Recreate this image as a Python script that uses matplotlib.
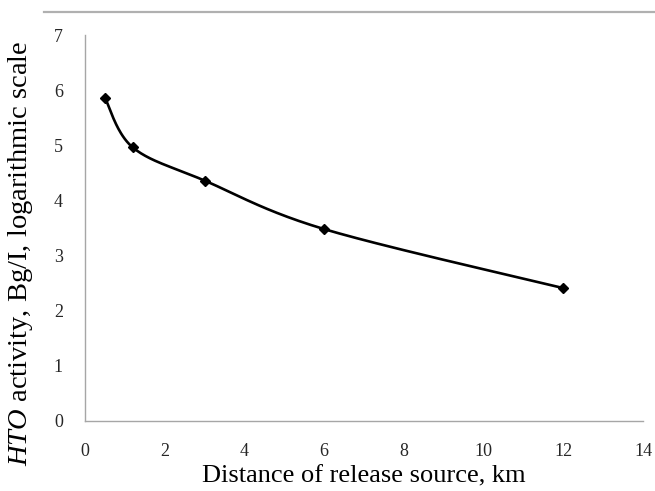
import numpy as np
import matplotlib
matplotlib.use('Agg')
import matplotlib.pyplot as plt
from matplotlib.lines import Line2D

# distance from release source (km) and HTO activity (log scale)
distance = [0.5, 1.2, 3.0, 6.0, 12.0]
activity = [5.86, 4.96, 4.36, 3.48, 2.41]

x_ticks = [0, 2, 4, 6, 8, 10, 12, 14]
y_ticks = [0, 1, 2, 3, 4, 5, 6, 7]

plt.rcParams['font.family'] = 'Liberation Serif'
plt.rcParams['mathtext.fontset'] = 'custom'
plt.rcParams['mathtext.rm'] = 'Liberation Serif'
plt.rcParams['mathtext.it'] = 'Liberation Serif:italic'


def smooth_curve(xs, ys, sx, sy, n=40):
    # excel-like smoothed line: bezier segments with catmull-rom control points
    p = np.column_stack([np.array(xs) * sx, np.array(ys) * sy])
    out = []
    for i in range(len(p) - 1):
        p0 = p[i - 1] if i > 0 else p[i]
        p1 = p[i]
        p2 = p[i + 1]
        p3 = p[i + 2] if i + 2 < len(p) else p[i + 1]
        c1 = p1 + (p2 - p0) / 6
        c2 = p2 - (p3 - p1) / 6
        t = np.linspace(0, 1, n)[:, None]
        seg = ((1 - t) ** 3) * p1 + 3 * ((1 - t) ** 2) * t * c1 + 3 * (1 - t) * t ** 2 * c2 + t ** 3 * p2
        out.append(seg if i == 0 else seg[1:])
    out = np.vstack(out)
    return out[:, 0] / sx, out[:, 1] / sy


fig = plt.figure(figsize=(6.55, 4.91), dpi=100)
ax = fig.add_axes([0.1298, 0.1426, 0.8519, 0.7861])

sx, sy = 39.86, 55.1  # pixels per unit, so smoothing is done in screen space
cx, cy = smooth_curve(distance, activity, sx, sy)
ax.plot(cx, cy, color='black', lw=1.9, solid_capstyle='round')
ax.plot(distance, activity, linestyle='none', marker='D', color='black', markersize=5.5)

ax.set_xlim(0, 14)
ax.set_ylim(0, 7)
ax.set_xticks(x_ticks)
ax.set_yticks(y_ticks)
ax.tick_params(axis='both', length=0, labelsize=13, colors='#262626')
ax.tick_params(axis='x', pad=16)
ax.tick_params(axis='y', pad=16)

for side in ['top', 'right']:
    ax.spines[side].set_visible(False)
for side in ['left', 'bottom']:
    ax.spines[side].set_color('#a6a6a6')
    ax.spines[side].set_linewidth(1.0)

ax.set_xlabel('Distance of release source, km', fontsize=19, labelpad=4)
ax.set_ylabel(r'$\mathit{HTO}$ activity, Bg/I, logarithmic scale', fontsize=20.5)
ax.yaxis.set_label_coords(-0.09, 0.435)

# gray rule across the top of the figure
fig.add_artist(Line2D([0.067, 1.0], [0.9756, 0.9756], transform=fig.transFigure,
                      color='#b0b0b0', lw=1.6))

fig.savefig('out.png', dpi=100)
